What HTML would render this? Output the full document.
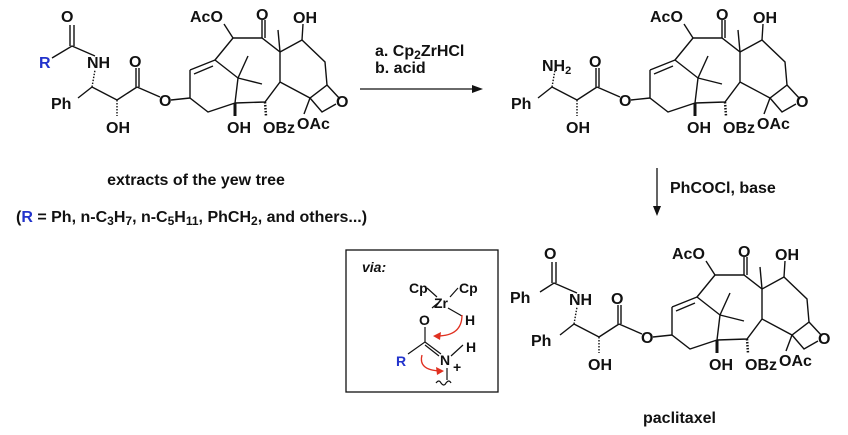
<!DOCTYPE html>
<html><head><style>
html,body{margin:0;padding:0;background:#fff;}
svg{display:block;font-family:"Liberation Sans",Arial,sans-serif;font-weight:bold;}
text{font-size:16px;fill:#111;}
.b{fill:#2233cc;}
.c{font-size:16px;}
</style></head><body>
<svg width="848" height="435" viewBox="0 0 848 435" xmlns="http://www.w3.org/2000/svg">
<defs>
<g id="core" stroke="#111" stroke-width="1.4" fill="none">
  <path d="M190,70 L215,60 L238,78 L235,103 L208,112 L190,98 L190,70"/>
  <path d="M194,74 L213,66"/>
  <path d="M215,60 L233,38 L262,38 L280,52 L280,82 L265,102 L235,103"/>
  <path d="M262,38 L262,20 M265,38 L265,20"/>
  <path d="M238,78 L248,56 M238,78 L262,84"/>
  <path d="M280,52 L278,30"/>
  <path d="M280,52 L302,40 L325,62 L327,85 L310,98 L280,82"/>
  <path d="M302,40 L303,24"/>
  <path d="M327,85 L340,99 M310,98 L322,112 L336,104"/>
  <path d="M310,98 L304,114"/>
  <path d="M265,102 L266,116" stroke-dasharray="1.5,1.5" stroke-width="2.5"/>
  <path d="M233,38 L224,24"/>
  <path d="M235,103 L235,116" stroke-width="3"/>
  <path d="M190,98 L171,100 M137,87 L160,97 M117,100 L137,87 M136,87 L136,68 M139,87 L139,68"/>
  <path d="M117,100 L117,116" stroke-dasharray="1.5,1.5"/>
  <path d="M92,87 L117,100 M92,87 L78,98"/>
  <path d="M92,87 L95,70" stroke-dasharray="1.5,1.5"/>
</g>
</defs>

<use href="#core"/>
<g stroke="#111" stroke-width="1.4" fill="none">
  <path d="M95,56 L72,46 L52,58 M70,46 L70,25 M74,46 L74,25"/>
</g>
<text x="61" y="22">O</text>
<text x="39" y="68" class="b">R</text>
<text x="87" y="68">NH</text>
<text x="129" y="67">O</text>
<text x="51" y="109">Ph</text>
<text x="106" y="133">OH</text>
<text x="159" y="106">O</text>
<text x="190" y="22">AcO</text>
<text x="256" y="20">O</text>
<text x="293" y="23">OH</text>
<text x="227" y="133">OH</text>
<text x="263" y="133">OBz</text>
<text x="297" y="129">OAc</text>
<text x="336" y="107">O</text>

<line x1="360" y1="89" x2="474" y2="89" stroke="#111" stroke-width="1.3"/>
<path d="M483,89 L472,85 L472,93 Z" fill="#111"/>
<text x="375" y="56" class="c">a. Cp<tspan dy="3" style="font-size:12px">2</tspan><tspan dy="-3">ZrHCl</tspan></text>
<text x="375" y="73" class="c">b. acid</text>

<use href="#core" transform="translate(460,0)"/>
<text x="542" y="71">NH<tspan dy="3" style="font-size:11px">2</tspan></text>
<text x="589" y="67">O</text>
<text x="511" y="109">Ph</text>
<text x="566" y="133">OH</text>
<text x="619" y="106">O</text>
<text x="650" y="22">AcO</text>
<text x="716" y="20">O</text>
<text x="753" y="23">OH</text>
<text x="687" y="133">OH</text>
<text x="723" y="133">OBz</text>
<text x="757" y="129">OAc</text>
<text x="796" y="107">O</text>

<text x="196" y="185" class="c" text-anchor="middle">extracts of the yew tree</text>
<text x="16" y="222" class="c">(<tspan class="b">R</tspan> = Ph, n-C<tspan dy="3" style="font-size:12px">3</tspan><tspan dy="-3">H</tspan><tspan dy="3" style="font-size:12px">7</tspan><tspan dy="-3">, n-C</tspan><tspan dy="3" style="font-size:12px">5</tspan><tspan dy="-3">H</tspan><tspan dy="3" style="font-size:12px">11</tspan><tspan dy="-3">, PhCH</tspan><tspan dy="3" style="font-size:12px">2</tspan><tspan dy="-3">, and others...)</tspan></text>

<line x1="657" y1="168" x2="657" y2="208" stroke="#111" stroke-width="1.3"/>
<path d="M657,216 L653,206 L661,206 Z" fill="#111"/>
<text x="670" y="193" class="c">PhCOCl, base</text>

<rect x="346" y="250" width="152" height="142" fill="none" stroke="#111" stroke-width="1.3"/>
<text x="362" y="272" style="font-size:14px;font-style:italic">via:</text>
<text x="409" y="293" style="font-size:14px">Cp</text>
<text x="459" y="293" style="font-size:14px">Cp</text>
<text x="434" y="308" style="font-size:14px">Zr</text>
<text x="419" y="325" style="font-size:14px">O</text>
<text x="465" y="325" style="font-size:14px">H</text>
<text x="396" y="366" class="b" style="font-size:14px">R</text>
<text x="440" y="365" style="font-size:14px">N</text>
<text x="466" y="352" style="font-size:14px">H</text>
<text x="453" y="372" style="font-size:14px">+</text>
<g stroke="#111" stroke-width="1.2" fill="none">
  <path d="M427,288 L437,297 M458,288 L450,297 M432,308 L438,303 M448,308 L462,316"/>
  <path d="M425,327 L425,342 L408,354 M425,342 L441,354 M425,345 L439,356"/>
  <path d="M451,356 L463,345 M447,368 L447,380"/>
  <path d="M436,383 q3,-4 5,0 q3,4 5,0 q3,-4 5,0"/>
</g>
<g stroke="#e03020" stroke-width="1.3" fill="none">
  <path d="M462,315 Q462,336 437,336"/>
  <path d="M422,355 Q418,370 440,371"/>
</g>
<path d="M433,336 L441,332 L440,340 Z" fill="#e03020"/>
<path d="M444,371 L436,367 L437,375 Z" fill="#e03020"/>

<use href="#core" transform="translate(482,237)"/>
<g stroke="#111" stroke-width="1.4" fill="none">
  <path d="M577,293 L554,283 L540,292 M552,283 L552,262 M556,283 L556,262"/>
</g>
<text x="544" y="259">O</text>
<text x="510" y="303">Ph</text>
<text x="569" y="305">NH</text>
<text x="611" y="304">O</text>
<text x="531" y="346">Ph</text>
<text x="588" y="370">OH</text>
<text x="641" y="343">O</text>
<text x="672" y="259">AcO</text>
<text x="738" y="257">O</text>
<text x="775" y="260">OH</text>
<text x="709" y="370">OH</text>
<text x="745" y="370">OBz</text>
<text x="779" y="366">OAc</text>
<text x="818" y="344">O</text>
<text x="643" y="423" class="c">paclitaxel</text>
</svg>
</body></html>
